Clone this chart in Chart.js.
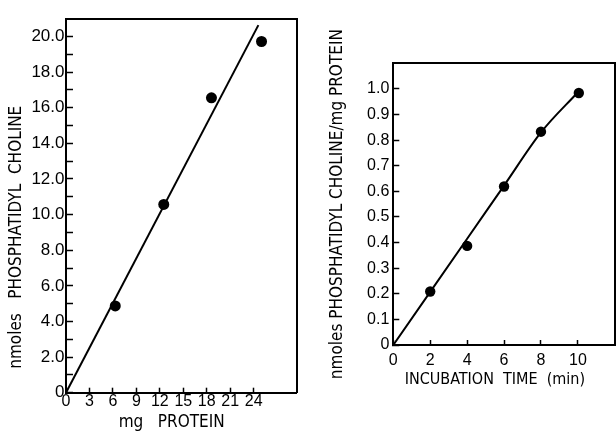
<!DOCTYPE html>
<html>
<head>
<meta charset="utf-8">
<script src="https://cdn.jsdelivr.net/npm/chart.js@4.4.1/dist/chart.umd.min.js"></script>
<style>
html,body{margin:0;padding:0;background:#fff;overflow:hidden;width:616px;height:434px;}
#c1{position:absolute;left:0;top:0;}
#c2{position:absolute;left:310px;top:0;}
</style>
</head>
<body>
<canvas id="c1" width="310" height="434"></canvas>
<canvas id="c2" width="310" height="434"></canvas>
<script>
// ---- Left panel data: nmoles phosphatidyl choline vs mg protein ----
const proteinMg   = [6.3, 12.5, 18.6, 25.0];
const pcNmoles    = [4.87, 10.57, 16.56, 19.72];
const fitLineX    = [0, 24.6];
const fitLineY    = [0, 20.64];
const leftXTicks  = [0, 3, 6, 9, 12, 15, 18, 21, 24];
const leftYTicks  = [0,1,2,3,4,5,6,7,8,9,10,11,12,13,14,15,16,17,18,19,20];
const leftYLabels = {0:'0',2:'2.0',4:'4.0',6:'6.0',8:'8.0',10:'10.0',12:'12.0',14:'14.0',16:'16.0',18:'18.0',20:'20.0'};

// ---- Right panel data: nmoles PC / mg protein vs incubation time ----
const timeMin     = [2, 4, 6, 8, 10.05];
const pcPerMg     = [0.209, 0.387, 0.619, 0.833, 0.984];
const curveX      = [0, 2, 4, 6, 8, 10];
const curveY      = [0, 0.2075, 0.415, 0.6225, 0.83, 0.987];
const rightXTicks = [0, 2, 4, 6, 8, 10];
const rightYTicks = [0, 0.1, 0.2, 0.3, 0.4, 0.5, 0.6, 0.7, 0.8, 0.9, 1.0];
const rightYLabels= ['0','0.1','0.2','0.3','0.4','0.5','0.6','0.7','0.8','0.9','1.0'];

const TICKFONT  = "'Liberation Sans', Arial, sans-serif";
const TITLEFONT = "'DejaVu Sans Condensed', 'DejaVu Sans', sans-serif";
Chart.defaults.color = '#000';

const pts = (xs, ys) => xs.map((x, i) => ({x, y: ys[i]}));
const setTicks = arr => s => { s.ticks = arr.map(v => ({value: v})); };
const tickFont  = {family: TICKFONT, size: 16};

function frameAxis(pos) {
  return {
    type: 'linear', position: pos, display: true,
    grid: {display: false, drawTicks: false},
    ticks: {display: false},
    border: {display: true, color: '#000', width: 2},
    afterFit: s => { if (pos === 'top') s.height = 0; else s.width = 0; }
  };
}

// Left chart
new Chart(document.getElementById('c1'), {
  type: 'scatter',
  data: {
    datasets: [
      {data: pts(fitLineX, fitLineY), showLine: true, borderColor: '#000', borderWidth: 2,
       pointRadius: 0, fill: false},
      {data: pts(proteinMg, pcNmoles), showLine: false, pointRadius: 5.5,
       backgroundColor: '#000', borderColor: '#000', borderWidth: 0}
    ]
  },
  options: {
    responsive: false, animation: false, devicePixelRatio: 1,
    layout: {padding: {top: 15.7, right: 13.3, left: 0, bottom: 0}},
    plugins: {legend: {display: false}, tooltip: {enabled: false}},
    scales: {
      x: {
        type: 'linear', position: 'bottom', min: 0, max: 29.5,
        afterBuildTicks: setTicks(leftXTicks),
        afterFit: s => { s.height = 41.3; },
        grid: {drawOnChartArea: false, drawTicks: true, tickLength: -5, tickWidth: 1.5, tickColor: '#000'},
        border: {color: '#000', width: 2},
        ticks: {font: tickFont, padding: 4.4, maxRotation: 0, autoSkip: false,
                callback: v => String(v)},
        title: {display: true, text: 'mg   PROTEIN    ', font: {family: TITLEFONT, size: 17}, padding: {top: 0, bottom: 0.8}}
      },
      y: {
        type: 'linear', position: 'left', min: 0, max: 21,
        afterBuildTicks: setTicks(leftYTicks),
        afterFit: s => { s.width = 66; },
        grid: {drawOnChartArea: false, drawTicks: true, tickLength: -7, tickWidth: 1.5, tickColor: '#000'},
        border: {color: '#000', width: 2},
        ticks: {font: {family: TICKFONT, size: 17}, padding: 8.5, autoSkip: false,
                callback: v => (leftYLabels[v] !== undefined ? leftYLabels[v] : '')},
        title: {display: true, text: 'nmoles   PHOSPHATIDYL  CHOLINE             ', font: {family: TITLEFONT, size: 17}, padding: {top: 6.8, bottom: 0}}
      },
      x2: frameAxis('top'),
      y2: frameAxis('right')
    }
  }
});

// Right chart
new Chart(document.getElementById('c2'), {
  type: 'scatter',
  data: {
    datasets: [
      {data: pts(curveX, curveY), showLine: true, borderColor: '#000', borderWidth: 2,
       pointRadius: 0, fill: false, cubicInterpolationMode: 'monotone'},
      {data: pts(timeMin, pcPerMg), showLine: false, pointRadius: 5.2,
       backgroundColor: '#000', borderColor: '#000', borderWidth: 0}
    ]
  },
  options: {
    responsive: false, animation: false, devicePixelRatio: 1,
    layout: {padding: {top: 63.3, right: 0, left: 0, bottom: 0}},
    plugins: {legend: {display: false}, tooltip: {enabled: false}},
    scales: {
      x: {
        type: 'linear', position: 'bottom', min: 0, max: 12,
        afterBuildTicks: setTicks(rightXTicks),
        afterFit: s => { s.height = 89; },
        grid: {drawOnChartArea: false, drawTicks: true, tickLength: -5, tickWidth: 1.5, tickColor: '#000'},
        border: {color: '#000', width: 2},
        ticks: {font: tickFont, padding: 11.1, maxRotation: 0, autoSkip: false,
                callback: v => String(v)},
        title: {display: true, text: 'INCUBATION  TIME  (min)    ', font: {family: TITLEFONT, size: 16}, padding: {top: 0, bottom: 44.4}}
      },
      y: {
        type: 'linear', position: 'left', min: 0, max: 1.1,
        afterBuildTicks: setTicks(rightYTicks),
        afterFit: s => { s.width = 83.3; },
        grid: {drawOnChartArea: false, drawTicks: true, tickLength: -6, tickWidth: 1.5, tickColor: '#000'},
        border: {color: '#000', width: 2},
        ticks: {font: tickFont, padding: 10, autoSkip: false,
                callback: (v, i) => rightYLabels[i]},
        title: {display: true, text: 'nmoles PHOSPHATIDYL CHOLINE/mg PROTEIN', font: {family: TITLEFONT, size: 17}, padding: {top: 17.8, bottom: 0}}
      },
      x2: frameAxis('top'),
      y2: frameAxis('right')
    }
  }
});
</script>
</body>
</html>
